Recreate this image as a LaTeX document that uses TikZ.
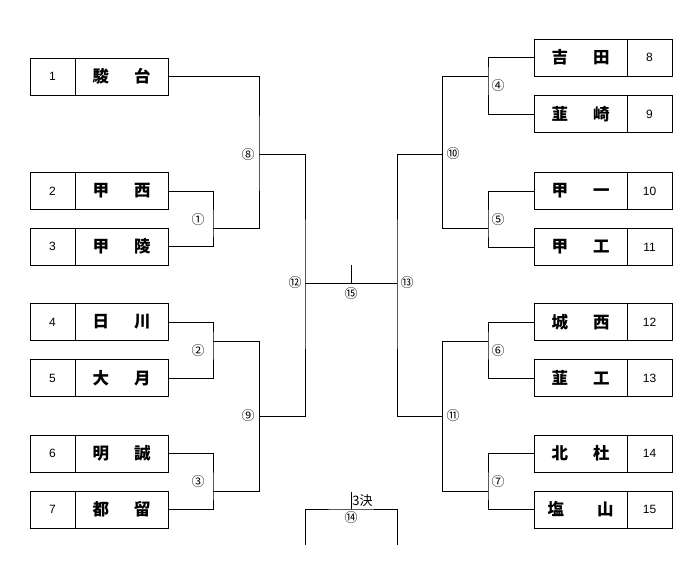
\documentclass[tikz,border=0pt]{standalone}
\usepackage{fontspec}
\setmainfont{Liberation Sans}
\newfontfamily\jpfont{Noto Sans CJK JP}
\usepackage{tikz}
\usetikzlibrary{positioning}
% two characters of a school name, spread over the cell
\newcommand{\pr}[3][25pt]{\jpfont\bfseries #2\hspace{#1}#3}

\begin{document}
\begin{tikzpicture}[x=1pt,y=-1pt,line width=0.8pt]
    \tikzstyle{numcell} = [rectangle, draw, minimum width=45pt, minimum height=37pt, inner sep=0pt, outer sep=0pt, font=\fontsize{12}{12}\selectfont]
    \tikzstyle{namecell} = [numcell, minimum width=93pt, font=\fontsize{16.5}{16.5}\selectfont]
    \tikzstyle{rnd} = [inner sep=0pt, font=\jpfont\fontsize{13}{13}\selectfont]
    \useasboundingbox (0,0) rectangle (700,561);
        %%% left teams %%%
        \node[numcell] (t1) at (52.5,76.5) {1};
        \node[namecell,right=0pt of t1] (s1) {\pr{駿}{台}};
        \node[numcell] (t2) at (52.5,191) {2};
        \node[namecell,right=0pt of t2] (s2) {\pr{甲}{西}};
        \node[numcell] (t3) at (52.5,246.5) {3};
        \node[namecell,right=0pt of t3] (s3) {\pr{甲}{陵}};
        \node[numcell] (t4) at (52.5,322) {4};
        \node[namecell,right=0pt of t4] (s4) {\pr{日}{川}};
        \node[numcell] (t5) at (52.5,378) {5};
        \node[namecell,right=0pt of t5] (s5) {\pr{大}{月}};
        \node[numcell] (t6) at (52.5,453.5) {6};
        \node[namecell,right=0pt of t6] (s6) {\pr{明}{誠}};
        \node[numcell] (t7) at (52.5,509.5) {7};
        \node[namecell,right=0pt of t7] (s7) {\pr{都}{留}};
        %%% right teams %%%
        \node[numcell] (t8) at (649.5,57.5) {8};
        \node[namecell,left=0pt of t8] (s8) {\pr{吉}{田}};
        \node[numcell] (t9) at (649.5,114) {9};
        \node[namecell,left=0pt of t9] (s9) {\pr{韮}{崎}};
        \node[numcell] (t10) at (649.5,191) {10};
        \node[namecell,left=0pt of t10] (s10) {\pr{甲}{一}};
        \node[numcell] (t11) at (649.5,247) {11};
        \node[namecell,left=0pt of t11] (s11) {\pr{甲}{工}};
        \node[numcell] (t12) at (649.5,322) {12};
        \node[namecell,left=0pt of t12] (s12) {\pr{城}{西}};
        \node[numcell] (t13) at (649.5,378) {13};
        \node[namecell,left=0pt of t13] (s13) {\pr{韮}{工}};
        \node[numcell] (t14) at (649.5,453.5) {14};
        \node[namecell,left=0pt of t14] (s14) {\pr{北}{杜}};
        \node[numcell] (t15) at (649.5,509.5) {15};
        \node[namecell,left=0pt of t15] (s15) {\pr[33pt]{塩}{山}};
        %%% match points
        \coordinate (m1) at (213,228);
        \coordinate (m2) at (213,341);
        \coordinate (m3) at (213,491);
        \coordinate (m8) at (259,154);
        \coordinate (m9) at (259,416);
        \coordinate (m12) at (305,283);
        \coordinate (m4) at (488,76);
        \coordinate (m5) at (488,228);
        \coordinate (m6) at (488,341);
        \coordinate (m7) at (488,491);
        \coordinate (m10) at (442,154);
        \coordinate (m11) at (442,416);
        \coordinate (m13) at (397,283);
        \coordinate (m15) at (351,283);
        \coordinate (win) at (351,265);
        %%% left bracket
        \draw (s2.east) -| (m1) |- (s3.east);
        \draw (s4.east) -| (m2) |- (s5.east);
        \draw (s6.east) -| (m3) |- (s7.east);
        \draw (s1.east) -| (m8) |- (m1);
        \draw (m9) |- (m2);
        \draw (m9) |- (m3);
        \draw (m8) -| (m12) |- (m9);
        %%% right bracket
        \draw (s8.west) -| (m4) |- (s9.west);
        \draw (s10.west) -| (m5) |- (s11.west);
        \draw (s12.west) -| (m6) |- (s13.west);
        \draw (s14.west) -| (m7) |- (s15.west);
        \draw (m10) |- (m4);
        \draw (m10) |- (m5);
        \draw (m11) |- (m6);
        \draw (m11) |- (m7);
        \draw (m10) -| (m13) |- (m11);
        %%% final
        \draw (m12) -- (m13);
        \draw (m15) -- (win);
        %%% third place
        \coordinate (m14) at (351,509);
        \coordinate (m14l) at (305,545);
        \coordinate (m14r) at (397,545);
        \coordinate (third) at (351,492);
        \draw (m14l) |- (m14) -| (m14r);
        \draw (m14) -- (third);
        \node[anchor=west,inner sep=1pt,font=\jpfont\fontsize{13}{13}\selectfont] (lbl3) at (351,501) {3決};
        %%% round labels
        \node[rnd] (r1) at (198,220) {①};
        \node[rnd] (r2) at (198,351) {②};
        \node[rnd] (r3) at (198,482) {③};
        \node[rnd] (r8) at (248,155) {⑧};
        \node[rnd] (r9) at (248,416) {⑨};
        \node[rnd] (r12) at (295,283) {⑫};
        \node[rnd] (r15) at (351,294) {⑮};
        \node[rnd] (r13) at (407,283) {⑬};
        \node[rnd] (r4) at (498,86) {④};
        \node[rnd] (r5) at (498,220) {⑤};
        \node[rnd] (r6) at (498,351) {⑥};
        \node[rnd] (r7) at (498,482) {⑦};
        \node[rnd] (r10) at (453,154) {⑩};
        \node[rnd] (r11) at (453,416) {⑪};
        \node[rnd] (r14) at (351,518) {⑭};
\end{tikzpicture}
\end{document}
